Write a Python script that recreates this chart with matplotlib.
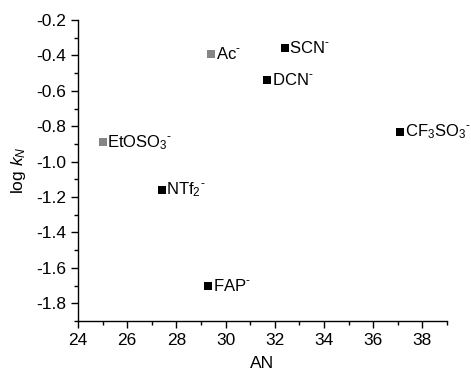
import matplotlib
matplotlib.use('Agg')
import matplotlib.pyplot as plt
from matplotlib.ticker import MultipleLocator

plt.rcParams['font.family'] = ['Liberation Sans', 'DejaVu Sans']
plt.rcParams['mathtext.fontset'] = 'custom'
plt.rcParams['mathtext.rm'] = 'Liberation Sans'
plt.rcParams['mathtext.it'] = 'Liberation Sans:italic'

# data
anions = ['Ac$^{\\text{-}}$', 'SCN$^{\\text{-}}$', 'DCN$^{\\text{-}}$', 'EtOSO$_3$$^{\\text{-}}$',
          'CF$_3$SO$_3$$^{\\text{-}}$', 'NTf$_2$$^{\\text{-}}$', 'FAP$^{\\text{-}}$']
an_values = [29.4, 32.4, 31.7, 25.0, 37.1, 27.4, 29.3]
log_kn = [-0.39, -0.36, -0.54, -0.89, -0.83, -1.16, -1.70]
is_gray = [True, False, False, True, False, False, False]

fig = plt.figure(figsize=(4.71, 3.76), dpi=100)
ax = fig.add_axes([0.1656, 0.1463, 0.7834, 0.8005])

for name, x, y, gray in zip(anions, an_values, log_kn, is_gray):
    color = '#858585' if gray else 'black'
    ax.plot(x, y, 's', color=color, markersize=5.2, markeredgewidth=0)
    ax.annotate(name, (x, y), xytext=(3.5, 0), textcoords='offset points',
                ha='left', va='center', fontsize=12)

ax.set_xlim(24, 39)
ax.set_ylim(-1.9, -0.2)
ax.xaxis.set_major_locator(MultipleLocator(2))
ax.xaxis.set_minor_locator(MultipleLocator(1))
ax.yaxis.set_major_locator(MultipleLocator(0.2))
ax.yaxis.set_minor_locator(MultipleLocator(0.1))
ax.yaxis.set_major_formatter(plt.FuncFormatter(lambda v, p: f'{v:.1f}'))

ax.spines['top'].set_visible(False)
ax.spines['right'].set_visible(False)
for s in ('left', 'bottom'):
    ax.spines[s].set_linewidth(1.0)
ax.tick_params(which='major', direction='out', length=5, width=1, labelsize=12.5)
ax.tick_params(which='minor', direction='out', length=3, width=1)

ax.set_xlabel('AN', fontsize=12.5, labelpad=6)
ax.set_ylabel('log $\\mathit{k}_{\\mathit{N}}$', fontsize=12.5, labelpad=6)

fig.savefig('out.png', dpi=100)
